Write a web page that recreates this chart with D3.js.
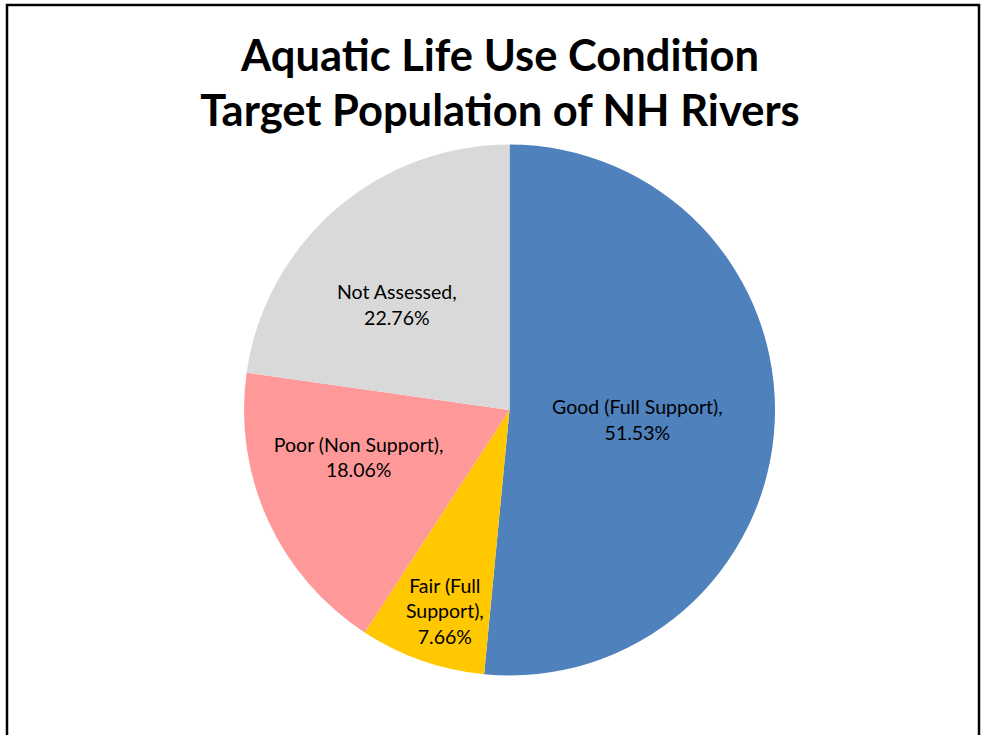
<!DOCTYPE html>
<html>
<head>
<meta charset="utf-8">
<script src="https://cdn.jsdelivr.net/npm/d3@7"></script>
<style>
  body { margin: 0; background: #fff; }
  text { font-family: Lato, "Open Sans", sans-serif; }
</style>
</head>
<body>
<script>
var categories = ['Good (Full Support)', 'Fair (Full Support)', 'Poor (Non Support)', 'Not Assessed'];
var values = [51.53, 7.66, 18.06, 22.76];
var colors = ['#4f81bd', '#ffc800', '#ff9999', '#d9d9d9'];
// label lines as shown in the chart
var labelLines = [
  ['Good (Full Support),', '51.53%'],
  ['Fair (Full', 'Support),', '7.66%'],
  ['Poor (Non Support),', '18.06%'],
  ['Not Assessed,', '22.76%']
];
var titleLines = ['Aquatic Life Use Condition', 'Target Population of NH Rivers'];

var width = 982, height = 735;
var cx = 509.5, cy = 410, radius = 265.5;

var svg = d3.select('body').append('svg')
    .attr('width', width)
    .attr('height', height);

// chart border
svg.append('rect')
    .attr('x', 7).attr('y', 5)
    .attr('width', 972).attr('height', 760)
    .attr('fill', 'none')
    .attr('stroke', '#000')
    .attr('stroke-width', 2.5);

svg.selectAll('.title')
    .data(titleLines)
    .enter()
    .append('text')
    .attr('class', 'title')
    .attr('x', 500)
    .attr('y', function(d, i) { return 71 + i * 55; })
    .attr('text-anchor', 'middle')
    .attr('font-size', 43.5)
    .attr('font-weight', 'bold')
    .text(function(d) { return d; });

var data = categories.map(function(c, i) {
  return {name: c, value: values[i], color: colors[i], lines: labelLines[i]};
});

var pie = d3.pie().sort(null).value(function(d) { return d.value; });
var arc = d3.arc().innerRadius(0).outerRadius(radius);

var g = svg.append('g').attr('transform', 'translate(' + cx + ',' + cy + ')');

var arcs = pie(data);

g.selectAll('path')
    .data(arcs)
    .enter()
    .append('path')
    .attr('d', arc)
    .attr('fill', function(d) { return d.data.color; });

// label placement: distance along mid angle, then a small nudge (Excel best fit)
var labelDist = [128, 211, 158, 152];
var labelNudge = [[0, 4], [5, 2], [-7, -18], [-13, 10]];
var lineH = 25.5;

var labels = g.selectAll('.lbl')
    .data(arcs)
    .enter()
    .append('text')
    .attr('class', 'lbl')
    .attr('text-anchor', 'middle')
    .attr('font-size', 19.5)
    .attr('fill', '#000')
    .attr('transform', function(d, i) {
      var a = (d.startAngle + d.endAngle) / 2;
      var r = labelDist[i];
      var x = Math.sin(a) * r + labelNudge[i][0];
      var y = -Math.cos(a) * r + labelNudge[i][1];
      return 'translate(' + x + ',' + y + ')';
    });

labels.selectAll('tspan')
    .data(function(d) { return d.data.lines.map(function(l, j, all) { return {t: l, j: j, n: all.length}; }); })
    .enter()
    .append('tspan')
    .attr('x', 0)
    .attr('y', function(d) { return (d.j - (d.n - 1) / 2) * lineH + 7; })
    .text(function(d) { return d.t; });
</script>
</body>
</html>
